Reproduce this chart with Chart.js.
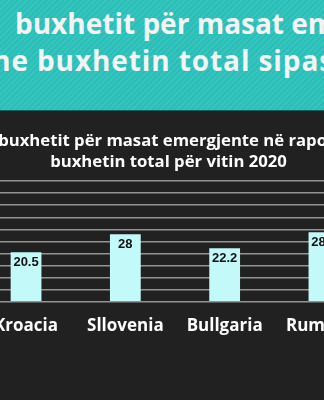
<!DOCTYPE html>
<html>
<head>
<meta charset="utf-8">
<script src="https://cdn.jsdelivr.net/npm/chart.js@4.4.1/dist/chart.umd.min.js"></script>
<style>
  html, body { margin: 0; padding: 0; }
  body { width: 324px; height: 400px; overflow: hidden; position: relative; background: #212121; }
  .banner {
    position: absolute; left: 0; top: 0; width: 324px; height: 110px; overflow: hidden;
    background: repeating-linear-gradient(135deg, #2bbdb6 0px, #2bbdb6 2px, #34c5be 2px, #34c5be 4px);
    border-bottom: 1px solid #15605c;
  }
  .banner .line {
    position: absolute; color: #f4f4f4; white-space: nowrap;
    font-family: "Open Sans", sans-serif; font-weight: bold; font-size: 28px; line-height: 38px;
  }
  .banner .pre { position: absolute; right: 100%; }
  .wrap { position: absolute; left: -40px; top: 120px; width: 417px; height: 280px; }
</style>
</head>
<body>
<div class="banner">
  <div class="line" style="top: 4px; left: 15px;"><span class="pre" style="padding-right: 16px;">% e</span>buxhetit për masat emergjente në raport</div>
  <div class="line" style="top: 41px; left: 37px; letter-spacing: 0.9px;"><span class="pre">me&nbsp;</span>buxhetin total sipas shteteve</div>
</div>
<div class="wrap"><canvas id="budgetChart"></canvas></div>
<script>
// vendet dhe perqindjet (2020)
const countries = ['Kroacia', 'Sllovenia', 'Bullgaria', 'Rumania'];
const shares = [20.5, 28, 22.2, 28.8];
const titleLines = ['% e buxhetit për masat emergjente në raport me', 'buxhetin total për vitin 2020'];

// vlerat brenda shtyllave
const valueLabels = {
    id: 'valueLabels',
    afterDatasetsDraw(chart) {
        const ctx = chart.ctx;
        const meta = chart.getDatasetMeta(0);
        ctx.save();
        ctx.fillStyle = '#111111';
        ctx.font = 'bold 13px "Liberation Sans", Arial, sans-serif';
        ctx.textAlign = 'center';
        ctx.textBaseline = 'top';
        meta.data.forEach((bar, i) => {
            ctx.fillText(String(shares[i]), bar.x, bar.y + 4);
        });
        ctx.restore();
    }
};

const ChartA = document.getElementById('budgetChart');
const budgetChart = new Chart(ChartA, {
    type: 'bar',
    data: {
        labels: countries,
        datasets: [{
            label: '% e buxhetit',
            data: shares,
            backgroundColor: '#c4f9f9',
            borderWidth: 0,
            categoryPercentage: 1,
            barPercentage: 0.31
        }]
    },
    options: {
        responsive: true,
        maintainAspectRatio: false,
        animation: false,
        layout: {
            padding: { left: 3.4, right: 3.4, top: 11.7, bottom: 57.8 }
        },
        scales: {
            y: {
                min: 0,
                max: 50,
                ticks: { stepSize: 5, display: false },
                grid: { color: '#939393', lineWidth: 1.5, drawTicks: false },
                border: { display: false },
                // boshti y pa etiketa, vetem pak hapesire
                afterFit(scale) { scale.width = 13; }
            },
            x: {
                grid: { display: false },
                border: { display: false },
                ticks: {
                    color: '#ffffff',
                    padding: 6,
                    font: { family: 'Open Sans', weight: 'bold', size: 17, lineHeight: 1.2 }
                }
            }
        },
        plugins: {
            legend: { display: false },
            tooltip: { enabled: false },
            title: {
                display: true,
                position: 'top',
                text: titleLines,
                color: '#ffffff',
                padding: { top: 0, bottom: 9.3 },
                font: { family: 'Open Sans', weight: 'bold', size: 16.7, lineHeight: 1.2 }
            }
        }
    },
    plugins: [valueLabels]
});
</script>
</body>
</html>
